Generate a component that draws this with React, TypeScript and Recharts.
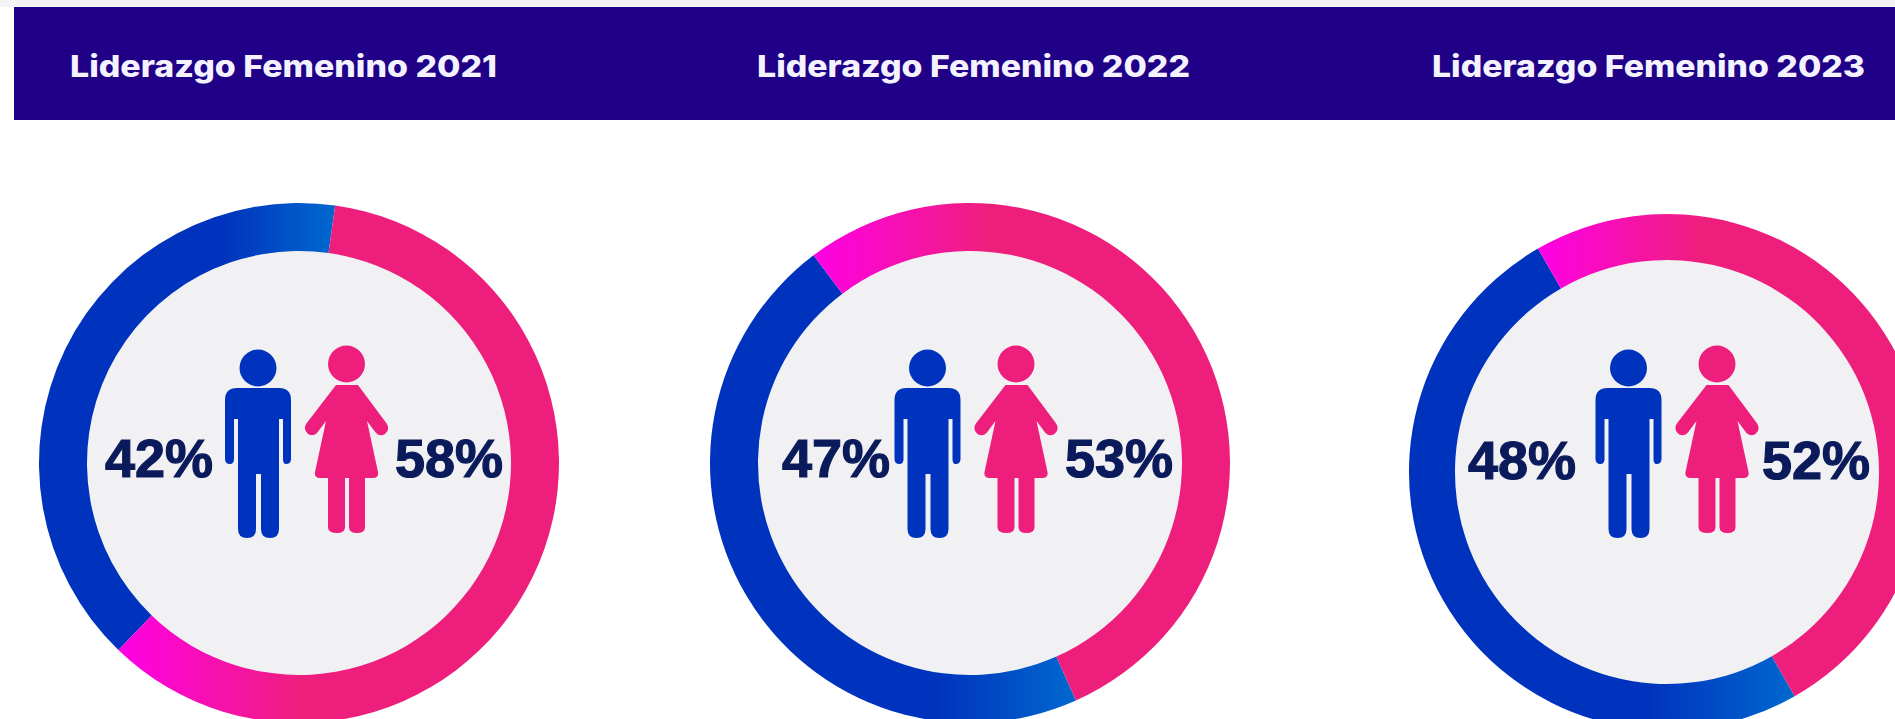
import React from "react";
import { PieChart, Pie, Cell } from "recharts";

const W = 1895;
const H = 719;
const titles = ["Liderazgo Femenino 2021", "Liderazgo Femenino 2022", "Liderazgo Femenino 2023"];
const menLabels = [42, 47, 48];
const womenLabels = [58, 53, 52];
const menArc = [40, 46.4, 49.9];
const womenArc = [60, 53.6, 50.1];
const startAngles = [82, 127, 120];
const centersX = [299, 970, 1667];
const centersY = [463, 463, 472];
const outerRadii = [260, 260, 258];
const innerRadii = [212, 212, 212];
const titleX = [70, 757, 1432];
const titleWidth = [427, 433, 433];
const menLabelX = [105, 782, 1468];
const womenLabelX = [395, 1065, 1762];
const labelY = [477, 477, 479];
const iconDx = [0, 669.5, 1370.5];

const MAN_PATH =
  "M225,400 Q225,388 237,388 H279 Q291,388 291,400 V459 Q291,464 286,464 Q283,464 283,459 V419 H279 V529 Q279,538 270,538 Q261,538 261,529 V474 H256 V529 Q256,538 247,538 Q238,538 238,529 V419 H234 V459 Q234,464 230,464 Q225,464 225,459 Z";
const WOMAN_PATH =
  "M336,385 H358 L387,424 Q390,430 385,434 Q380,437 376,433 L367,421 L378,472 Q379,478 373,478 H365 V527 Q365,533 357,533 Q349,533 349,527 V478 H345 V527 Q345,533 337,533 Q328,533 328,527 V478 H320 Q314,478 315,472 L326,421 L317,433 Q313,437 308,434 Q303,430 306,424 Z";

const BLUE = "#0033bd";
const PINK = "#ee1f7c";
const NAVY = "#0a1a5a";
const TITLE_FONT = "Inter, 'Open Sans', sans-serif";
const LABEL_FONT = "'Liberation Sans', Arial, sans-serif";

export default function App() {
  return (
    <div style={{ position: "absolute", left: 0, top: 0, width: W, height: H, overflow: "hidden", background: "#fff" }}>
      <PieChart width={W} height={H} margin={{ top: 0, right: 0, bottom: 0, left: 0 }}>
        <defs>
          <linearGradient id="blueGrad" x1="0" y1="0" x2="1" y2="0">
            <stop offset="0%" stopColor={BLUE} />
            <stop offset="62%" stopColor={BLUE} />
            <stop offset="100%" stopColor="#0068cf" />
          </linearGradient>
          <linearGradient id="pinkGrad" x1="0" y1="0" x2="1" y2="0">
            <stop offset="0%" stopColor="#ff00e6" />
            <stop offset="42%" stopColor={PINK} />
            <stop offset="100%" stopColor={PINK} />
          </linearGradient>
        </defs>
        <rect x={0} y={0} width={W} height={7} fill="#f3f2f6" />
        <rect x={14} y={7} width={W - 14} height={113} fill="#1f0087" />
        {titles.map((t, i) => (
          <Pie
            key={"bg" + t}
            data={[{ name: "fondo", value: 100 }]}
            dataKey="value"
            cx={centersX[i]}
            cy={centersY[i]}
            innerRadius={0}
            outerRadius={innerRadii[i] + 2}
            fill="#f1f1f3"
            stroke="none"
            isAnimationActive={false}
          />
        ))}
        {titles.map((t, i) => (
          <Pie
            key={"ring" + t}
            data={[
              { name: "Hombres", value: menArc[i] },
              { name: "Mujeres", value: womenArc[i] },
            ]}
            dataKey="value"
            cx={centersX[i]}
            cy={centersY[i]}
            innerRadius={innerRadii[i]}
            outerRadius={outerRadii[i]}
            startAngle={startAngles[i]}
            endAngle={startAngles[i] + 360}
            stroke="none"
            isAnimationActive={false}
          >
            <Cell fill="url(#blueGrad)" />
            <Cell fill="url(#pinkGrad)" />
          </Pie>
        ))}
      </PieChart>
      <svg width={W} height={H} style={{ position: "absolute", left: 0, top: 0, pointerEvents: "none" }}>
        {titles.map((t, i) => (
          <text
            key={t}
            x={titleX[i]}
            y={77}
            fill="#f4f2ff"
            fontFamily={TITLE_FONT}
            fontWeight={800}
            fontSize={30}
            textLength={titleWidth[i]}
            lengthAdjust="spacingAndGlyphs"
          >
            {t}
          </text>
        ))}
        {titles.map((t, i) => (
          <g key={"icons" + t}>
            <g transform={`translate(${iconDx[i]},0)`}>
              <circle cx={258} cy={368} r={18.5} fill={BLUE} />
              <path d={MAN_PATH} fill={BLUE} />
              <circle cx={346.5} cy={364} r={18.5} fill={PINK} />
              <path d={WOMAN_PATH} fill={PINK} />
            </g>
            <text x={menLabelX[i]} y={labelY[i]} fill={NAVY} stroke={NAVY} strokeWidth={1.2} fontFamily={LABEL_FONT} fontWeight={700} fontSize={54}>
              {menLabels[i]}%
            </text>
            <text x={womenLabelX[i]} y={labelY[i]} fill={NAVY} stroke={NAVY} strokeWidth={1.2} fontFamily={LABEL_FONT} fontWeight={700} fontSize={54}>
              {womenLabels[i]}%
            </text>
          </g>
        ))}
      </svg>
    </div>
  );
}
